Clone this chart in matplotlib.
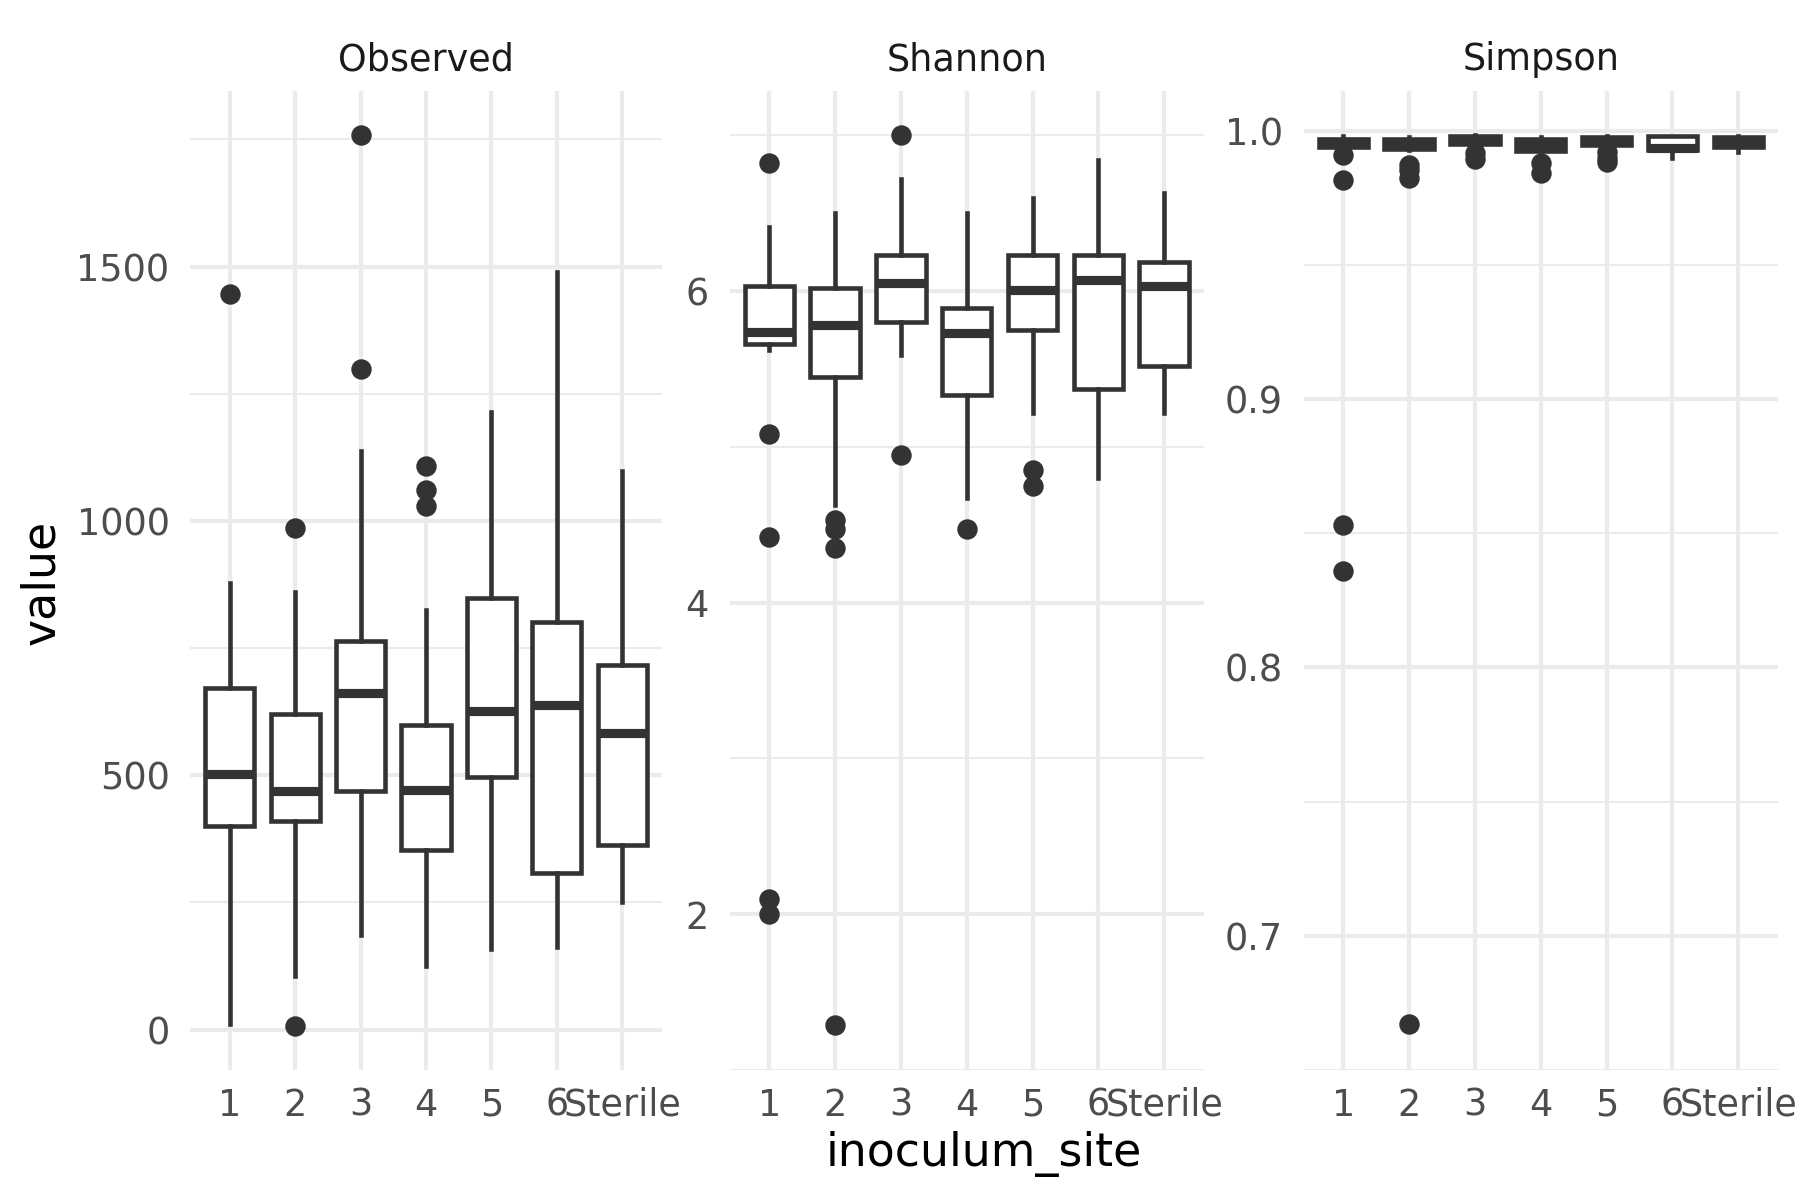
import matplotlib
matplotlib.use("Agg")
import matplotlib.pyplot as plt

# === Data ===
sites = ["1", "2", "3", "4", "5", "6", "Sterile"]

obs_q1 = [401, 410, 469, 353, 497, 307, 363]
obs_med = [502, 469, 661, 472, 627, 639, 583]
obs_q3 = [671, 621, 763, 598, 849, 802, 716]
obs_lo = [11, 106, 186, 126, 158, 162, 250]
obs_hi = [877, 860, 1137, 824, 1214, 1490, 1098]
obs_out = [[1446], [987, 8], [1758, 1299], [1107, 1060, 1030], [], [], []]

sha_q1 = [5.66, 5.45, 5.80, 5.33, 5.75, 5.37, 5.52]
sha_med = [5.74, 5.78, 6.05, 5.73, 6.01, 6.07, 6.03]
sha_q3 = [6.03, 6.02, 6.23, 5.89, 6.23, 6.23, 6.19]
sha_lo = [5.62, 4.63, 5.59, 4.67, 5.22, 4.80, 5.22]
sha_hi = [6.41, 6.50, 6.72, 6.50, 6.60, 6.84, 6.63]
sha_out = [[6.82, 5.08, 4.42, 2.10, 2.00], [4.53, 4.47, 4.35, 1.29],
           [7.00, 4.95], [4.47], [4.85, 4.75], [], []]

sim_q1 = [0.9939, 0.9933, 0.9951, 0.9926, 0.9945, 0.9928, 0.9939]
sim_med = [0.9958, 0.9952, 0.9966, 0.9948, 0.9962, 0.9935, 0.9960]
sim_q3 = [0.9971, 0.9969, 0.9979, 0.9969, 0.9976, 0.9979, 0.9978]
sim_lo = [0.9935, 0.9930, 0.9948, 0.9922, 0.9940, 0.9897, 0.9921]
sim_hi = [0.9981, 0.9976, 0.9983, 0.9976, 0.9980, 0.9982, 0.9980]
sim_out = [[0.9911, 0.9818, 0.853, 0.836], [0.9874, 0.9855, 0.9824, 0.667],
           [0.9918, 0.9893], [0.9880, 0.9843], [0.9920, 0.9900, 0.9885], [], []]

DARK = "#333333"
GRID = "#EBEBEB"

plt.rcParams["font.family"] = ["DejaVu Sans"]
fig = plt.figure(figsize=(6, 4), dpi=300)

panels = [
    ("Observed", obs_q1, obs_med, obs_q3, obs_lo, obs_hi, obs_out,
     [0, 500, 1000, 1500], [250, 750, 1250, 1750], "{:.0f}"),
    ("Shannon", sha_q1, sha_med, sha_q3, sha_lo, sha_hi, sha_out,
     [2, 4, 6], [1, 3, 5, 7], "{:.0f}"),
    ("Simpson", sim_q1, sim_med, sim_q3, sim_lo, sim_hi, sim_out,
     [0.7, 0.8, 0.9, 1.0], [0.65, 0.75, 0.85, 0.95], "{:.1f}"),
]
lefts = [0.1058, 0.4054, 0.7243]
widths = [0.2617, 0.2633, 0.2633]
bottom, height = 0.1083, 0.816

for (name, q1, med, q3, lo, hi, out, major, minor, fmt), l, w in zip(panels, lefts, widths):
    ax = fig.add_axes([l, bottom, w, height])
    stats = []
    for i in range(len(sites)):
        stats.append(dict(q1=q1[i], med=med[i], q3=q3[i], whislo=lo[i],
                          whishi=hi[i], fliers=out[i], label=sites[i]))
    pos = list(range(1, len(sites) + 1))
    ax.bxp(stats, positions=pos, widths=0.75, showcaps=False, patch_artist=True,
           boxprops=dict(facecolor="white", edgecolor=DARK, linewidth=1.1),
           whiskerprops=dict(color=DARK, linewidth=1.1),
           medianprops=dict(color=DARK, linewidth=2.2, solid_capstyle="butt"),
           flierprops=dict(marker="o", markerfacecolor=DARK, markeredgecolor=DARK,
                           markersize=3.9, linestyle="none"),
           zorder=3)

    allv = lo + hi + [v for o in out for v in o]
    vmin, vmax = min(allv), max(allv)
    pad = (vmax - vmin) * 0.05
    ax.set_ylim(vmin - pad, vmax + pad)
    ax.set_xlim(0.4, len(sites) + 0.6)

    ax.set_yticks(major)
    ax.set_yticklabels([fmt.format(v) for v in major])
    ax.set_yticks(minor, minor=True)
    ax.set_xticks(pos)
    ax.set_xticklabels(sites)

    ax.grid(True, which="major", color=GRID, linewidth=1.0, zorder=0)
    ax.grid(True, which="minor", axis="y", color=GRID, linewidth=0.5, zorder=0)
    ax.set_axisbelow(True)
    for s in ax.spines.values():
        s.set_visible(False)
    ax.tick_params(which="both", length=0, pad=5, labelsize=8.8, labelcolor="#4D4D4D")
    ax.tick_params(axis="x", pad=4)

    fig.text(l + w / 2, 0.950, name, ha="center", va="center", fontsize=8.8, color="#1A1A1A")

fig.text(0.0233, 0.515, "value", rotation=90, ha="center", va="center", fontsize=11)
fig.text(0.5467, 0.038, "inoculum_site", ha="center", va="center", fontsize=11)

fig.savefig("out.png", dpi=300, facecolor="white")
